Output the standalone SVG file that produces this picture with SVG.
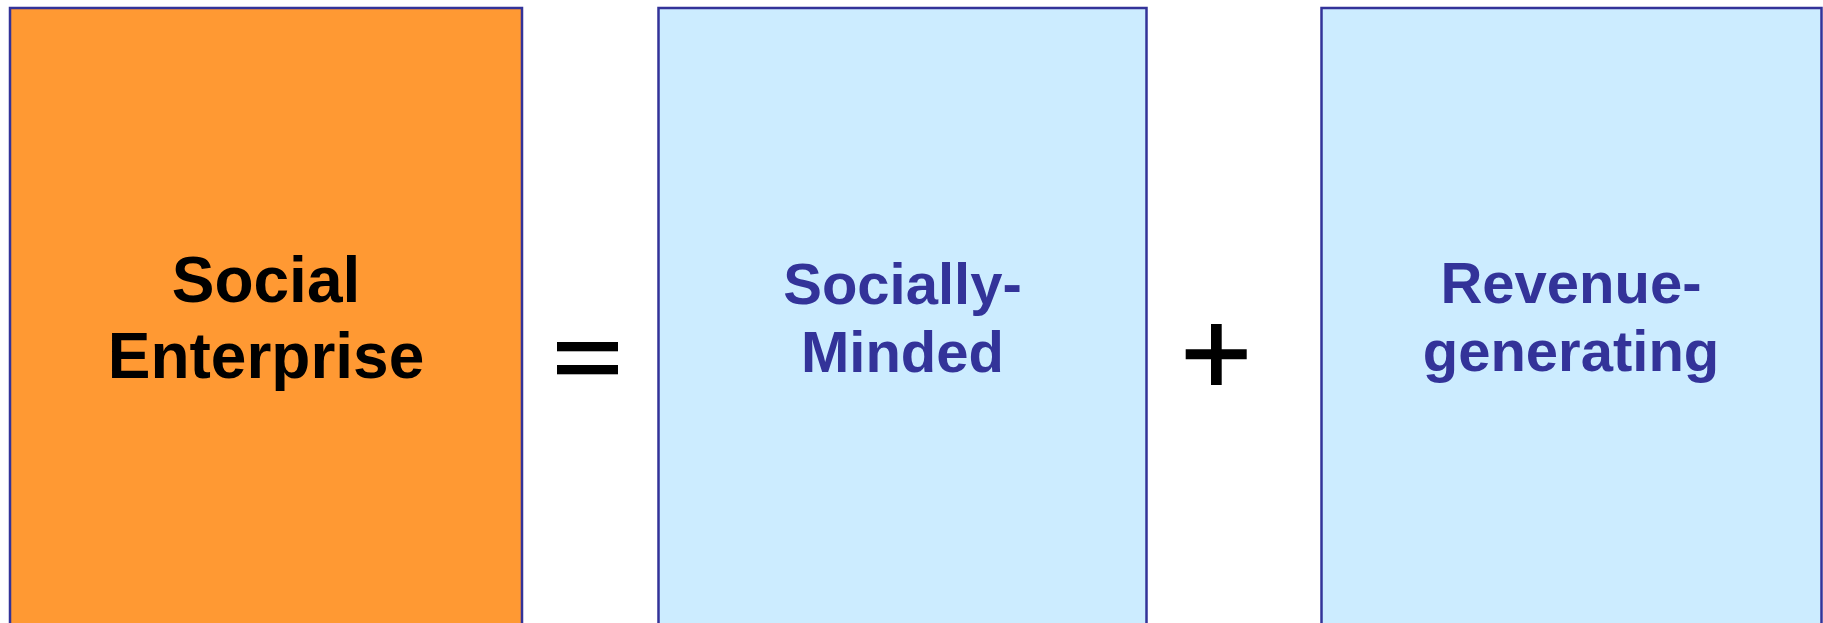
<svg xmlns="http://www.w3.org/2000/svg" width="1823" height="623" viewBox="0 0 1823 623">
<style>
.box{stroke:#333399;stroke-width:2.5}
.t{font-family:"Liberation Sans",Arial,sans-serif;font-weight:bold;text-anchor:middle}
.big{font-size:64px;fill:#000}
.blue{font-size:58px;fill:#333399}
.op{fill:#000}
</style>
<rect width="1823" height="623" fill="#fff"/>
<g id="social-enterprise">
<rect class="box" x="10" y="8" width="512" height="640" fill="#FF9933"/>
<text class="t big" x="266" y="302">Social</text>
<text class="t big" x="266" y="378">Enterprise</text>
</g>
<g id="equals">
<rect class="op" x="557" y="342" width="61" height="9.3"/>
<rect class="op" x="557" y="365" width="61" height="9.3"/>
</g>
<g id="socially-minded">
<rect class="box" x="658.5" y="8" width="488" height="640" fill="#CCECFF"/>
<text class="t blue" x="902.5" y="304">Socially-</text>
<text class="t blue" x="902.5" y="372">Minded</text>
</g>
<g id="plus">
<path class="op" d="M1211 324h10.7v25.3h25v10h-25v25.7h-10.7v-25.7h-25.3v-10h25.3z"/>
</g>
<g id="revenue-generating">
<rect class="box" x="1321.5" y="8" width="500" height="640" fill="#CCECFF"/>
<text class="t blue" x="1571" y="303">Revenue-</text>
<text class="t blue" x="1571" y="371">generating</text>
</g>
<g id="connectors"></g>
</svg>
